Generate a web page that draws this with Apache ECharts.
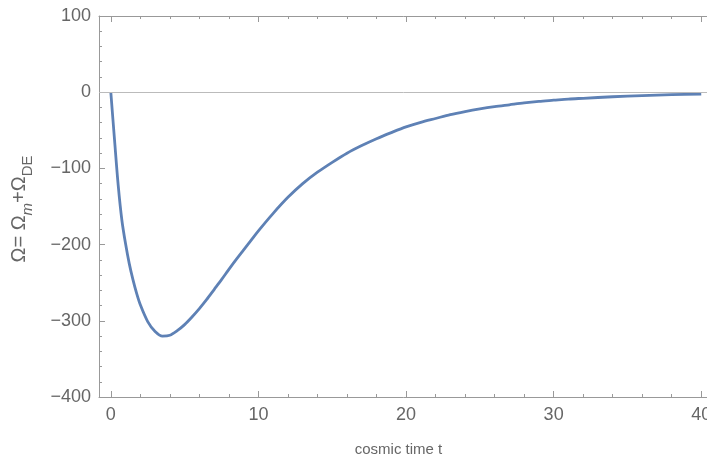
<!DOCTYPE html>
<html><head><meta charset="utf-8">
<script src="https://cdn.jsdelivr.net/npm/echarts@6/dist/echarts.min.js"></script>
<style>html,body{margin:0;padding:0;background:#fff}#c{width:707px;height:461px}</style>
</head><body><div id="c"></div>
<script>
// cosmic time t
const tValues = [0, 0.25, 0.5, 0.75, 1.0, 1.25, 1.5, 1.75, 2.0, 2.5, 3.0, 3.5, 4.0, 4.5, 5.0, 5.5, 6.0, 6.5, 7.0, 7.5, 8.0, 8.5, 9.0, 9.5, 10, 11, 12, 13, 14, 15, 16, 17, 18, 19, 20, 21, 22, 23, 24, 25, 26, 27, 28, 29, 30, 31, 32, 34, 36, 38, 40];
// Omega = Omega_m + Omega_DE
const omegaValues = [0, -62, -122, -168, -199, -225, -246, -264, -279, -301, -314, -320, -319, -313, -305, -295, -284, -272, -259, -246, -232.5, -219.5, -207, -194.5, -182, -159, -138, -120, -105, -92, -80, -70, -61, -53, -45.5, -39.5, -34.5, -29.5, -25.5, -22, -19, -16.5, -14, -12, -10.5, -9, -8, -6, -4.5, -3.3, -2.5];
const xMajorTicks = [0, 10, 20, 30, 40];
const xMinorTicks = [0, 2, 4, 6, 8, 10, 12, 14, 16, 18, 20, 22, 24, 26, 28, 30, 32, 34, 36, 38, 40];
const zeroLine = 0;

const X_MIN = -0.8, X_MAX = 41;
const frame = '#999999';
const txt = '#666666';
const fontFamily = '"Liberation Sans", Arial, sans-serif';

function xAx(pos, values, len, labels, line) {
  return {
    type: 'value', position: pos, min: X_MIN, max: X_MAX,
    axisLine: { show: line, onZero: false, lineStyle: { color: frame, width: 1 } },
    axisTick: { show: true, inside: true, length: len, customValues: values, lineStyle: { color: frame } },
    axisLabel: labels ? { show: true, customValues: values, color: txt, fontSize: 18, fontFamily, margin: 9 } : { show: false },
    splitLine: { show: false }
  };
}

const chart = echarts.init(document.getElementById('c'), null, { renderer: 'canvas' });
const xs = [
  xAx('bottom', xMajorTicks, 6, true, true),
  xAx('bottom', xMinorTicks, 3, false, false),
  xAx('top', xMajorTicks, 6, false, true),
  xAx('top', xMinorTicks, 3, false, false)
];
xs[0].name = 'cosmic time t';
xs[0].nameLocation = 'middle';
xs[0].nameGap = 45;
xs[0].nameTextStyle = { color: txt, fontSize: 15, fontFamily, padding: [0, 18, 0, 0] };

chart.setOption({
  animation: false,
  grid: { left: 99, width: 617, top: 16, height: 381, containLabel: false, outerBoundsMode: 'none' },
  xAxis: xs,
  yAxis: {
    type: 'value', min: -400, max: 100, interval: 100,
    axisLine: { show: true, onZero: false, lineStyle: { color: frame } },
    axisTick: { show: true, inside: true, length: 6, lineStyle: { color: frame } },
    minorTick: { show: true, splitNumber: 5, length: 3, lineStyle: { color: frame } },
    axisLabel: { color: txt, fontSize: 18, fontFamily, margin: 8,
      formatter: v => String(v).replace('-', '\u2212') },
    splitLine: { show: false },
    name: '{a|Ω= Ω}{m|m}{a|+Ω}{s|DE}',
    nameLocation: 'middle', nameGap: 64, nameRotate: 90,
    nameTextStyle: {
      color: txt, fontFamily, padding: [0, 5, 0, 0],
      rich: {
        a: { fontSize: 20, color: txt, fontFamily, lineHeight: 26, verticalAlign: 'top' },
        m: { fontSize: 15, color: txt, fontFamily, fontStyle: 'italic', lineHeight: 26, verticalAlign: 'bottom', padding: [9, 0, 0, 0] },
        s: { fontSize: 15, color: txt, fontFamily, lineHeight: 26, verticalAlign: 'bottom', padding: [9, 0, 0, 0] }
      }
    }
  },
  series: [{
    type: 'line', xAxisIndex: 0, yAxisIndex: 0,
    data: tValues.map((t, i) => [t, omegaValues[i]]),
    showSymbol: false, smooth: 0.3,
    lineStyle: { color: '#5e81b5', width: 2.8 },
    z: 3,
    markLine: {
      silent: true, symbol: ['none', 'none'], label: { show: false },
      lineStyle: { color: '#bbbbbb', width: 1, type: 'solid' },
      data: [{ yAxis: zeroLine }]
    }
  }]
});
</script></body></html>
